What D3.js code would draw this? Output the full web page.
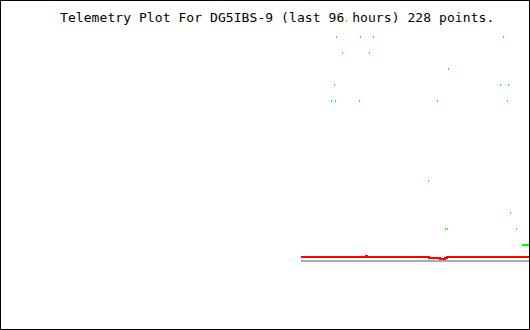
<!DOCTYPE html>
<html>
<head>
<meta charset="utf-8">
<script src="https://cdn.jsdelivr.net/npm/d3@7"></script>
<style>
    body { margin: 0; background: #fff; }
    svg { display: block; }
</style>
</head>
<body>
<svg width="530" height="330"></svg>
<script>
// hours before now, value (telemetry level)
const TITLE = 'Telemetry Plot For DG5IBS-9 (last 96 hours) 228 points.';
const HOURS = [-96, 0];
const LEVELS = [-5.25, 15.25];

// green channel: scattered samples
const greenHours = [-33.27, -28.36, -35.09, -30.73, -28.36, -4.73, -34.0, -29.09, -14.73,
    -35.45, -5.27, -3.82, -36.0, -35.27, -30.91, -16.73, -4.0, -18.36, -3.45,
    -15.27, -14.91, -2.36, -1.27, -1.09, -0.91, -0.73, -0.55, -0.36, -0.18];
const greenValues = [14, 14, 13, 13, 13, 13, 12, 12, 11,
    10, 10, 10, 9, 9, 9, 9, 9, 4, 2,
    1, 1, 1, 0, 0, 0, 0, 0, 0, 0];

// red channel: step line
const redHours = [-41.45, -29.64, -29.45, -29.27, -18.18, -16.18, -15.27, -14.91, 0];
const redValues = [-0.75, -0.6875, -0.75, -0.75, -0.8125, -0.875, -0.8125, -0.75, -0.75];

// gray reference line
const grayHours = [-41.45, 0];
const grayValues = [-1, -1];

(function () {
    const W = 530, H = 330;
    const GREEN = '#00ff00', RED = '#ff0000', GRAY = '#aaaaaa';

    const svg = d3.select('svg');

    const x = d3.scaleLinear().domain(HOURS).range([1, W - 1]);
    const y = d3.scaleLinear().domain(LEVELS).range([H - 1, 1]);

    // рамка
    svg.append('rect')
        .attr('x', 0.5)
        .attr('y', 0.5)
        .attr('width', W - 1)
        .attr('height', H - 1)
        .attr('fill', '#fff')
        .attr('stroke', '#000');

    svg.append('text')
        .attr('x', 60)
        .attr('y', 22)
        .attr('font-family', 'DejaVu Sans Mono, monospace')
        .attr('font-size', 13)
        .attr('letter-spacing', 0.07)
        .attr('fill', '#000')
        .text(TITLE);

    const line = d3.line()
        .x(d => x(d[0]))
        .y(d => y(d[1]))
        .curve(d3.curveStepAfter);

    svg.append('path')
        .attr('d', line(d3.zip(grayHours, grayValues)))
        .attr('fill', 'none')
        .attr('stroke', GRAY)
        .attr('stroke-width', 2)
        .attr('shape-rendering', 'crispEdges');

    svg.append('path')
        .attr('d', line(d3.zip(redHours, redValues)))
        .attr('fill', 'none')
        .attr('stroke', RED)
        .attr('stroke-width', 2)
        .attr('shape-rendering', 'crispEdges');

    d3.zip(greenHours, greenValues).forEach(function (p) {
        svg.append('rect')
            .attr('x', Math.round(x(p[0])))
            .attr('y', Math.round(y(p[1])) - 1)
            .attr('width', 1)
            .attr('height', 2)
            .attr('fill', GREEN)
            .attr('shape-rendering', 'crispEdges');
    });
})();
</script>
</body>
</html>
